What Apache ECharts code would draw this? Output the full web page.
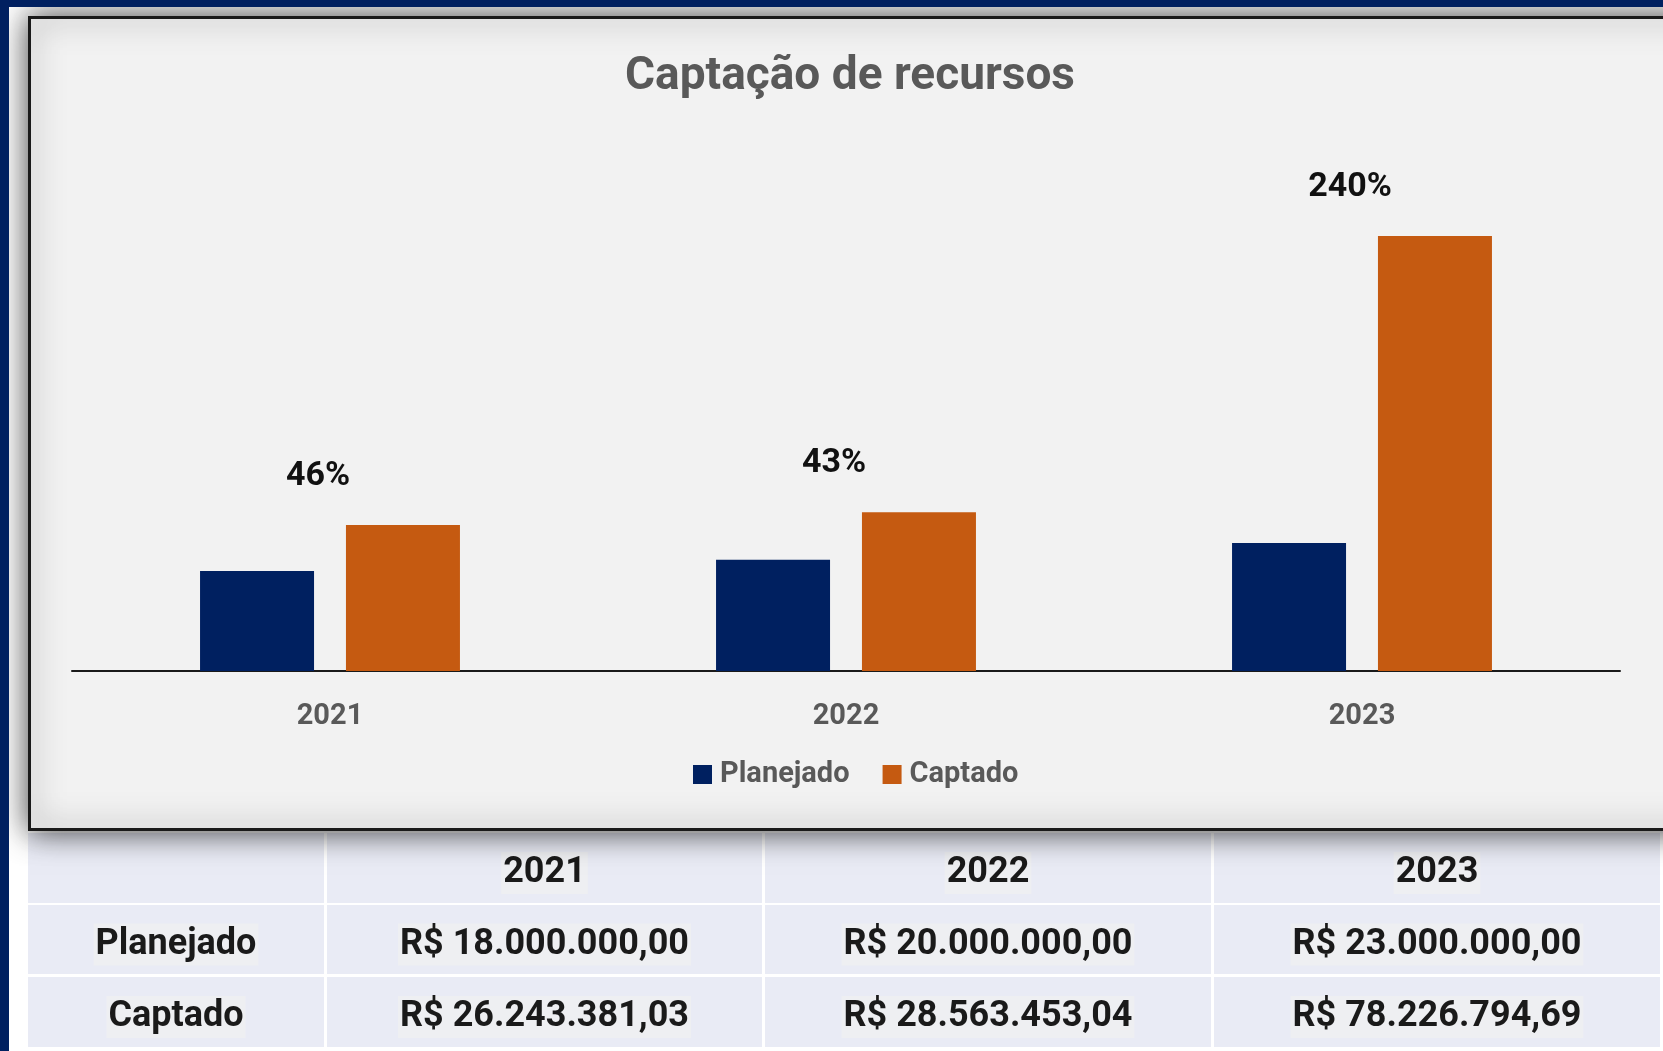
<!DOCTYPE html>
<html>
<head>
<meta charset="utf-8">
<title>Captação de recursos</title>
<script src="https://cdn.jsdelivr.net/npm/echarts@6/dist/echarts.min.js"></script>
<style>
  html, body { margin: 0; padding: 0; background: #fff; }
  #main { width: 1663px; height: 1051px; }
</style>
</head>
<body>
<div id="main"></div>
<script>
// dados
const anos = ['2021', '2022', '2023'];
const planejado = [18000000, 20000000, 23000000];
const captado = [26243381.03, 28563453.04, 78226794.69];
const linhas = ['Planejado', 'Captado'];

const AZUL = '#002060';
const LARANJA = '#C55A11';
const CINZA = '#595959';
const FONT = 'Roboto, "Noto Sans", sans-serif';

// formata no padrão R$ 1.234,56
function brl(v) {
  const parts = v.toFixed(2).split('.');
  const inteiro = parts[0].replace(/\B(?=(\d{3})+(?!\d))/g, '.');
  return 'R$ ' + inteiro + ',' + parts[1];
}

const percentual = captado.map((c, i) => Math.round((c - planejado[i]) / planejado[i] * 100) + '%');

// tabela embaixo do gráfico
const colX = [28, 327, 765, 1214, 1663];
const rowY = [833, 905, 977];
const rowH = [70, 69, 70];
const tabela = [
  [''].concat(anos),
  [linhas[0]].concat(planejado.map(brl)),
  [linhas[1]].concat(captado.map(brl)),
];

const graficos = [];
tabela.forEach((linha, r) => {
  linha.forEach((txt, c) => {
    graficos.push({
      type: 'rect',
      z: 1,
      shape: { x: colX[c], y: rowY[r], width: colX[c + 1] - colX[c] - 3, height: rowH[r] },
      style: { fill: '#E9EBF5' },
    });
    if (txt) {
      graficos.push({
        type: 'text',
        z: 2,
        x: (colX[c] + colX[c + 1] - 3) / 2,
        y: rowY[r] + rowH[r] / 2 + 5,
        style: {
          text: txt,
          align: 'center',
          verticalAlign: 'middle',
          fontFamily: FONT,
          fontSize: 36,
          fontWeight: 'bold',
          fill: '#1a1a1a',
          backgroundColor: '#eeeff2',
          padding: [3, 2],
        },
      });
    }
  });
});

// painel do gráfico com sombra
graficos.push({
  type: 'rect',
  z: 3,
  shape: { x: 29.5, y: 17.5, width: 1700, height: 812 },
  style: {
    fill: '#F2F2F2',
    stroke: '#1a1a1a',
    lineWidth: 3,
    shadowBlur: 30,
    shadowColor: 'rgba(0,0,0,0.75)',
  },
});

// faixas azuis da borda
graficos.push({ type: 'rect', z: 4, shape: { x: 0, y: 0, width: 1663, height: 7 }, style: { fill: AZUL } });
graficos.push({ type: 'rect', z: 4, shape: { x: 0, y: 0, width: 9, height: 1051 }, style: { fill: AZUL } });

const chart = echarts.init(document.getElementById('main'));
chart.setOption({
  backgroundColor: '#ffffff',
  animation: false,
  graphic: { elements: graficos },
  title: {
    text: 'Captação de recursos',
    left: 845,
    textAlign: 'center',
    top: 49,
    z: 10,
    textStyle: { fontFamily: FONT, fontSize: 46, fontWeight: 'bold', color: CINZA },
  },
  legend: {
    data: linhas,
    left: 688,
    top: 755,
    z: 10,
    icon: 'rect',
    itemWidth: 19,
    itemHeight: 19,
    itemGap: 33,
    textStyle: { fontFamily: FONT, fontSize: 29, fontWeight: 'bold', color: CINZA, padding: [0, 0, 0, 3] },
  },
  grid: { left: 72, right: 43, top: 115, bottom: 380, containLabel: false, z: 10 },
  xAxis: {
    type: 'category',
    data: anos,
    z: 10,
    axisLine: { lineStyle: { color: '#1a1a1a', width: 2 } },
    axisTick: { show: false },
    axisLabel: { color: CINZA, fontFamily: FONT, fontSize: 29, fontWeight: 'bold', margin: 31 },
  },
  yAxis: {
    type: 'value',
    min: 0,
    max: 100000000,
    show: false,
    splitLine: { show: false },
  },
  series: [
    {
      name: linhas[0],
      type: 'bar',
      z: 10,
      data: planejado,
      barWidth: 114,
      barGap: '28%',
      itemStyle: { color: AZUL },
    },
    {
      name: linhas[1],
      type: 'bar',
      z: 10,
      data: captado,
      barWidth: 114,
      itemStyle: { color: LARANJA },
    },
    {
      // rótulo de percentual acima do grupo
      name: 'percentual',
      type: 'scatter',
      z: 11,
      silent: true,
      symbolSize: 0,
      itemStyle: { opacity: 1 },
      data: captado,
      label: {
        show: true,
        position: 'top',
        distance: 32,
        offset: [-12, 0],
        formatter: (p) => percentual[p.dataIndex],
        fontFamily: FONT,
        fontSize: 34,
        fontWeight: 'bold',
        color: '#111111',
      },
    },
  ],
});
</script>
</body>
</html>
